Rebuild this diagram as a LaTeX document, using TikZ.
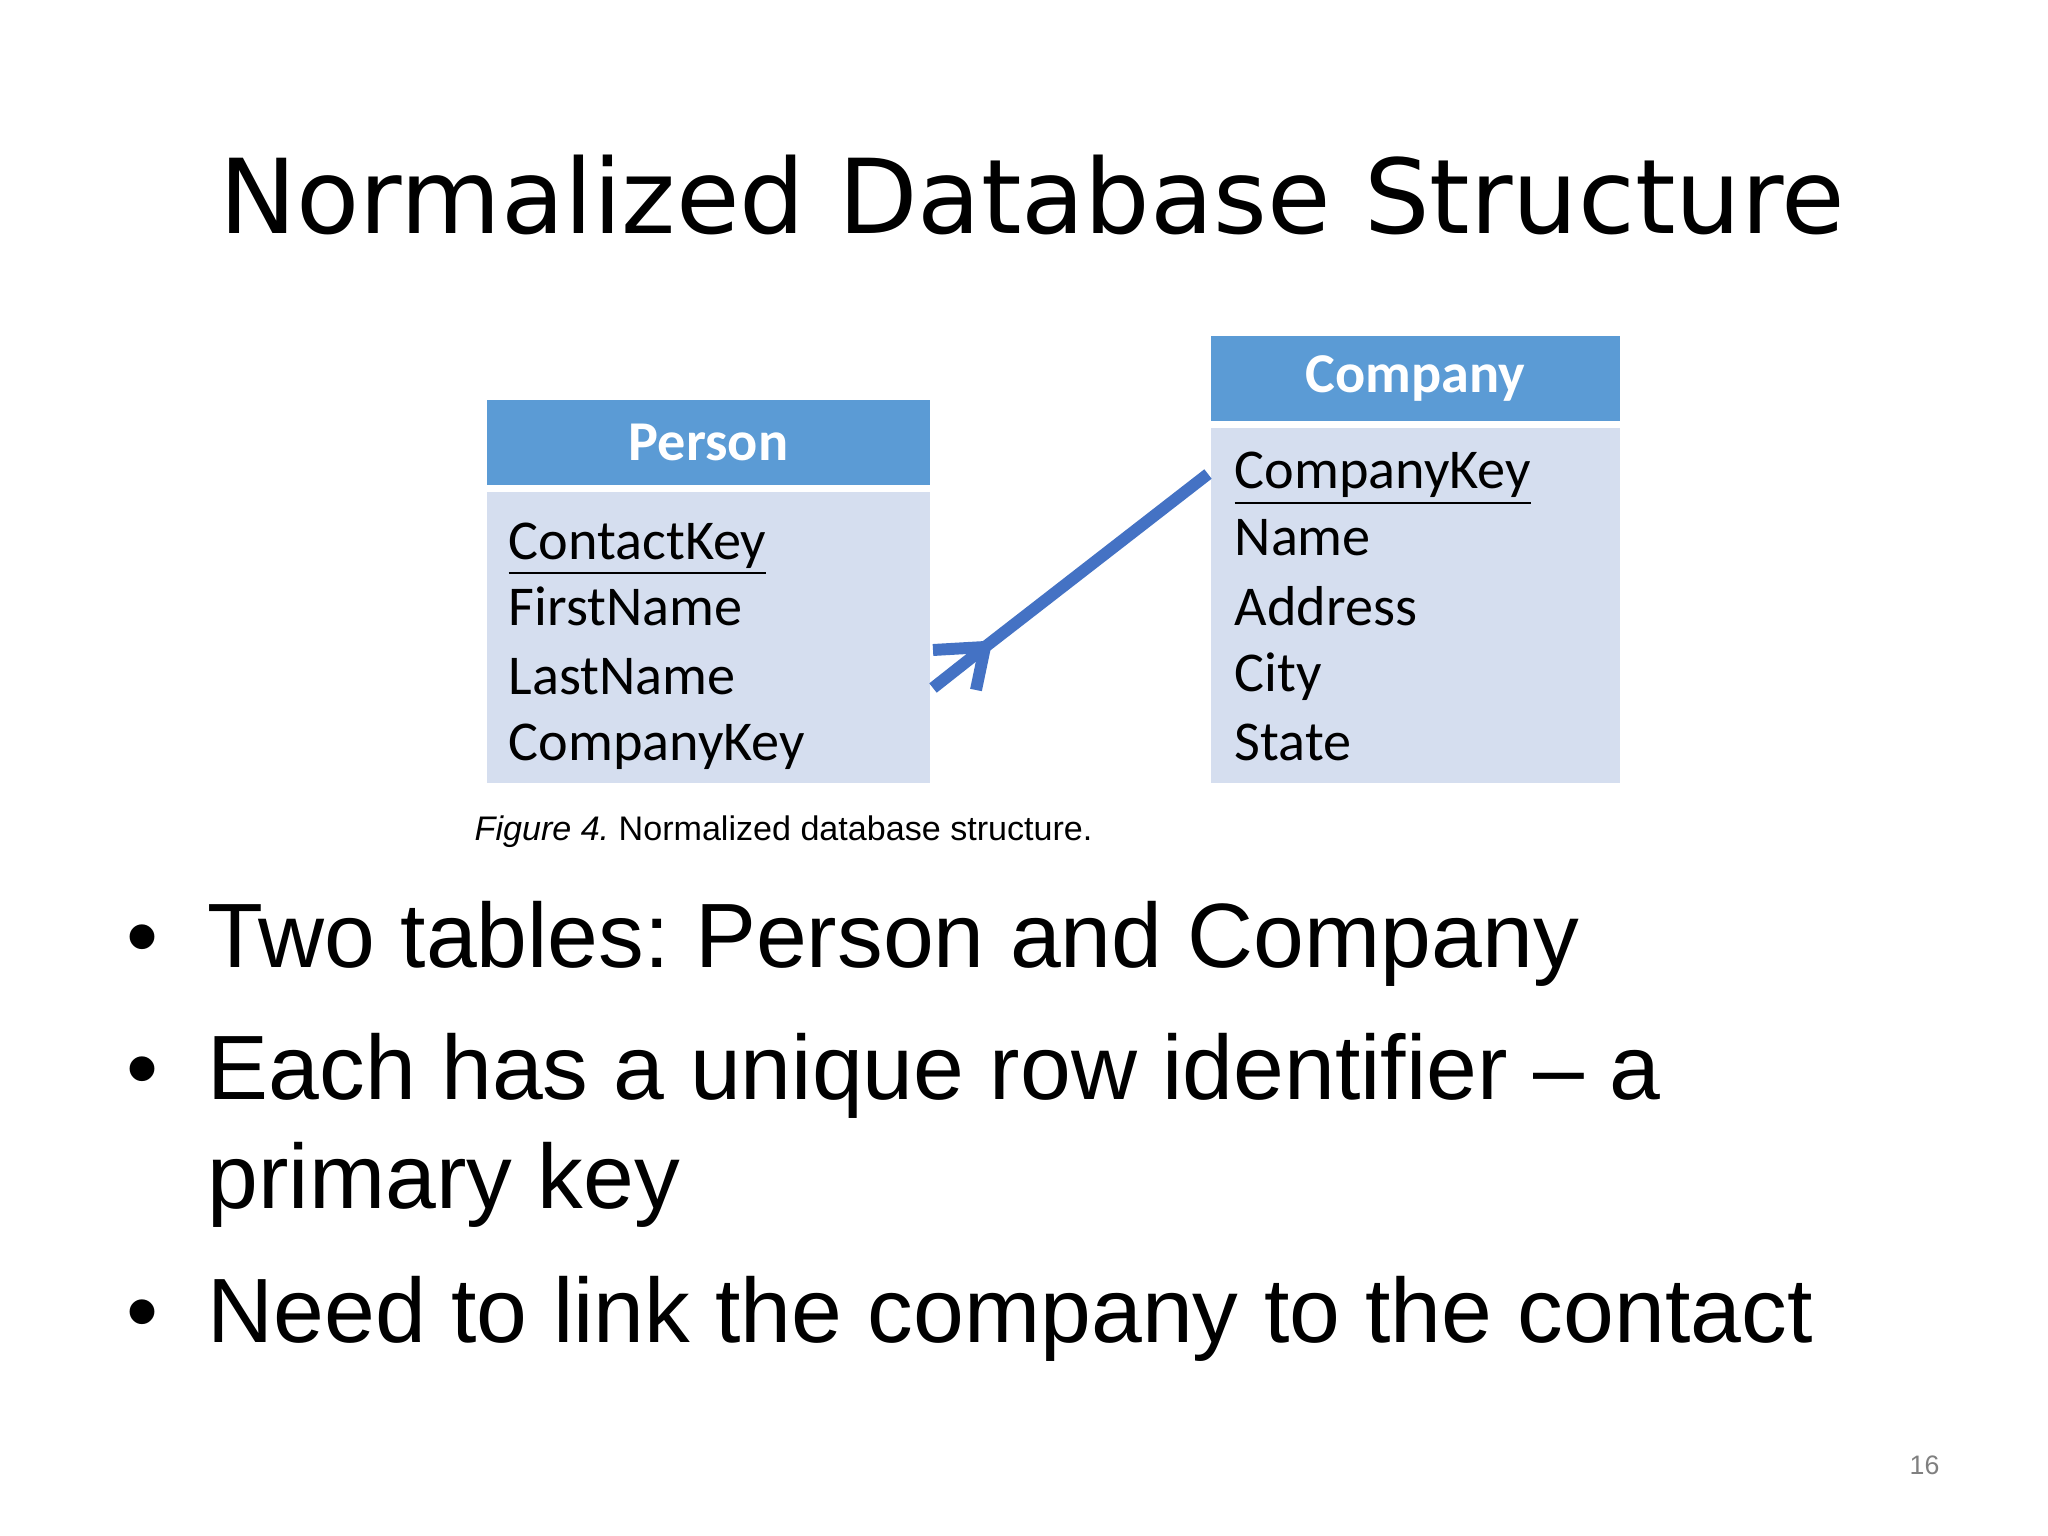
\documentclass[tikz,border=0pt]{standalone}
\usepackage{fontspec}
\setmainfont{Liberation Sans}
\newfontfamily\titlefont{DejaVu Sans}
\newfontfamily\tablefont{Carlito}
\usepackage{xcolor}
\definecolor{headblue}{HTML}{5B9BD5}
\definecolor{bodyblue}{HTML}{D5DEEF}
\definecolor{linkblue}{HTML}{4472C4}
\begin{document}
\frenchspacing
\begin{tikzpicture}
\tikzstyle{header} =[rectangle, fill=headblue, inner sep=0pt, minimum height=0.85cm, text=white, font=\tablefont\bfseries\fontsize{16}{19}\selectfont]
\tikzstyle{body} =[rectangle, fill=bodyblue, inner sep=0pt]
\tikzstyle{field} =[anchor=base west, inner sep=0pt, font=\tablefont\fontsize{16}{19}\selectfont]
\tikzstyle{bullet} =[anchor=base west, inner sep=0pt, font=\fontsize{26}{31}\selectfont]
\tikzstyle{link} =[line width=3.4pt, linkblue]

\useasboundingbox (0,0) rectangle (20.48,-15.36);
\fill[white] (0,0) rectangle (20.48,-15.36);

\node[anchor=base, font=\titlefont\fontsize{29.4}{35}\selectfont](title) at (10.32,-2.34){Normalized Database Structure};

\node[header, minimum width=4.43cm](ph) at (7.085,-4.425){Person};
\node[body, minimum width=4.43cm, minimum height=2.91cm](pb) at (7.085,-6.375){};
\node[header, minimum width=4.09cm](ch) at (14.155,-3.785){Company};
\node[body, minimum width=4.09cm, minimum height=3.55cm](cb) at (14.155,-6.055){};

\node[field](p1) at (5.08,-5.59){\underline{ContactKey}};
\node[field](p2) at (5.08,-6.26){FirstName};
\node[field](p3) at (5.08,-6.94){LastName};
\node[field](p4) at (5.08,-7.61){CompanyKey};

\node[field](c1) at (12.34,-4.89){\underline{CompanyKey}};
\node[field](c2) at (12.34,-5.56){Name};
\node[field](c3) at (12.34,-6.25){Address};
\node[field](c4) at (12.34,-6.92){City};
\node[field](c5) at (12.34,-7.60){State};

\coordinate (key) at (12.08,-4.74);
\coordinate (jn) at (9.85,-6.47);
\coordinate (f1) at (9.33,-6.50);
\coordinate (f2) at (9.33,-6.88);
\coordinate (f3) at (9.76,-6.90);
\draw [link] (key) -- (jn);
\foreach \f in {f1,f2,f3}
  \draw [link] (jn) -- (\f);

\node[anchor=west, inner sep=0pt, font=\fontsize{9.7}{12}\selectfont](cap) at (4.74,-8.32){\textit{Figure 4.} Normalized database structure.};

\node[bullet](b1) at (2.07,-9.67){Two tables: Person and Company};
\node[bullet](b2) at (2.07,-10.99){Each has a unique row identifier -- a};
\node[bullet](b2b) at (2.07,-12.08){primary key};
\node[bullet](b3) at (2.07,-13.42){Need to link the company to the contact};
\foreach \b in {b1,b2,b3}
  \node[anchor=base, inner sep=0pt, font=\fontsize{26}{31}\selectfont] at (1.42,0 |- \b.base){\textbullet};

\node[anchor=west, inner sep=0pt, text=gray, font=\fontsize{7.6}{10}\selectfont](page) at (19.09,-14.65){16};
\end{tikzpicture}
\end{document}
